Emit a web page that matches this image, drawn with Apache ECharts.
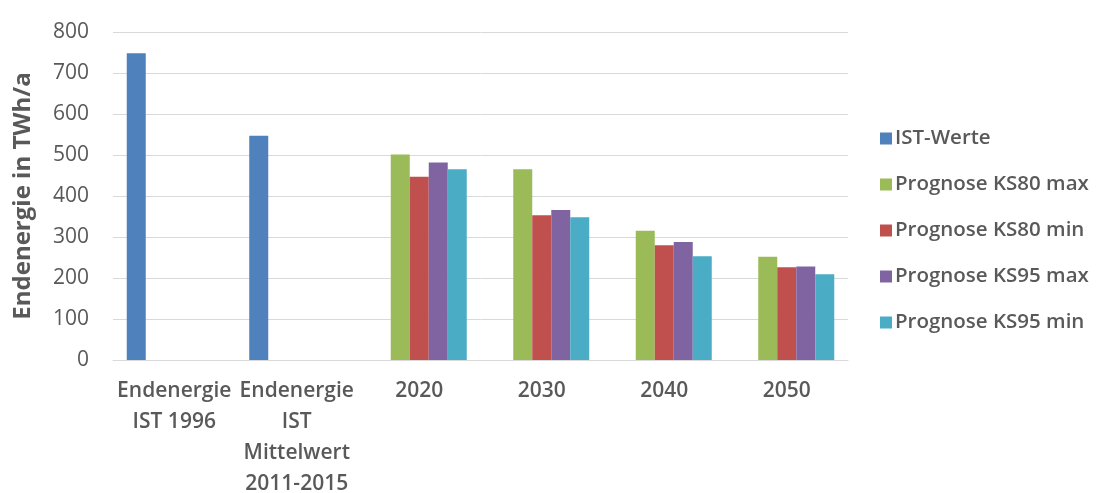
<!DOCTYPE html>
<html>
<head>
<meta charset="utf-8">
<script src="https://cdn.jsdelivr.net/npm/echarts@6/dist/echarts.min.js"></script>
<style>html,body{margin:0;padding:0;background:#fff}#c{width:1098px;height:493px}</style>
</head>
<body>
<div id="c"></div>
<script>
const categories = ["Endenergie\nIST 1996", "Endenergie\nIST\nMittelwert\n2011-2015", "2020", "2030", "2040", "2050"];
const seriesNames = ["IST-Werte", "Prognose KS80 max", "Prognose KS80 min", "Prognose KS95 max", "Prognose KS95 min"];
const istWerte   = [748, 547, null, null, null, null];
const ks80max    = [null, null, 501, 465, 315, 252];
const ks80min    = [null, null, 447, 353, 280, 226];
const ks95max    = [null, null, 482, 366, 288, 228];
const ks95min    = [null, null, 465, 348, 253, 209];
const yTicks = [0, 100, 200, 300, 400, 500, 600, 700, 800];
const colors = ["#4F81BD", "#9BBB59", "#C0504D", "#8064A2", "#4BACC6"];

const data = [istWerte, ks80max, ks80min, ks95max, ks95min];
const FONT = "Open Sans";
const chart = echarts.init(document.getElementById('c'), null, {renderer: 'canvas'});
chart.setOption({
  animation: false,
  color: colors,
  grid: {left: 113, right: 250, top: 32, bottom: 133, containLabel: false, outerBoundsMode: 'none'},
  legend: {
    orient: 'vertical', left: 875, top: 123,
    itemWidth: 12, itemHeight: 12, itemGap: 25,
    icon: 'rect',
    textStyle: {fontFamily: FONT, fontSize: 20.5, fontWeight: 600, color: '#595959', lineHeight: 21, padding: [0,0,0,-2]},
    data: seriesNames
  },
  xAxis: {
    type: 'category', data: categories,
    axisLine: {lineStyle: {color: '#d9d9d9', width: 1}},
    axisTick: {show: false},
    axisLabel: {interval: 0, margin: 16, fontFamily: FONT, fontSize: 21, fontWeight: 600, color: '#595959', lineHeight: 31}
  },
  yAxis: {
    type: 'value', min: yTicks[0], max: yTicks[yTicks.length-1], interval: 100,
    name: 'Endenergie in TWh/a', nameLocation: 'middle', nameGap: 78,
    nameTextStyle: {fontFamily: FONT, fontSize: 24, fontWeight: 'bold', color: '#595959'},
    axisLine: {show: false}, axisTick: {show: false},
    splitLine: {lineStyle: {color: '#d9d9d9', width: 1}},
    axisLabel: {margin: 24, fontFamily: FONT, fontSize: 21, color: '#595959'}
  },
  series: seriesNames.map((n, i) => ({
    name: n, type: 'bar', data: data[i], barWidth: 19, barGap: '0%'
  }))
});
</script>
</body>
</html>
